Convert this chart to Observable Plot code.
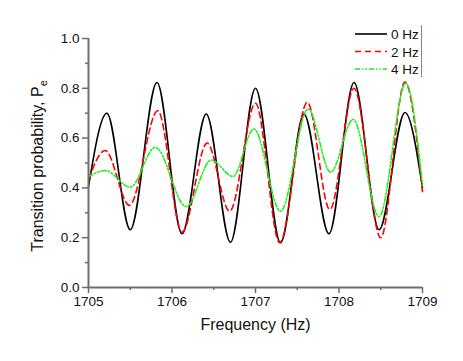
<!DOCTYPE html>
<html>
<head>
<meta charset="utf-8">
<script src="https://cdn.jsdelivr.net/npm/d3@7"></script>
<script src="https://cdn.jsdelivr.net/npm/@observablehq/plot@0.6"></script>
<style>
  html, body { margin: 0; padding: 0; background: #fff; }
  #chart { position: relative; width: 463px; height: 361px; }
  svg { font-family: "Liberation Sans", Arial, sans-serif; }
</style>
</head>
<body>
<div id="chart"></div>
<script>
// ---- data ----
const freq0 = [1705.0, 1705.22, 1705.5, 1705.82, 1706.12, 1706.41, 1706.70, 1707.00, 1707.30, 1707.58, 1707.88, 1708.18, 1708.48, 1708.79, 1709.0];
const p0    = [0.405, 0.70, 0.232, 0.823, 0.216, 0.697, 0.182, 0.80, 0.18, 0.697, 0.216, 0.823, 0.232, 0.703, 0.40];

const freq2 = [1705.0, 1705.2, 1705.49, 1705.83, 1706.12, 1706.42, 1706.69, 1707.0, 1707.29, 1707.62, 1707.89, 1708.18, 1708.5, 1708.79, 1709.0];
const p2    = [0.435, 0.55, 0.33, 0.71, 0.222, 0.58, 0.306, 0.74, 0.18, 0.744, 0.313, 0.80, 0.20, 0.825, 0.385];

const freq4 = [1705.0, 1705.2, 1705.5, 1705.8, 1706.17, 1706.47, 1706.73, 1706.98, 1707.3, 1707.63, 1707.9, 1708.17, 1708.48, 1708.8, 1709.0];
const p4    = [0.445, 0.47, 0.403, 0.563, 0.325, 0.512, 0.446, 0.637, 0.306, 0.717, 0.463, 0.675, 0.285, 0.82, 0.41];

const seriesNames = ["0 Hz", "2 Hz", "4 Hz"];
const xMajorTicks = [1705, 1706, 1707, 1708, 1709];
const xMinorTicks = [1705.5, 1706.5, 1707.5, 1708.5];
const yMajorTicks = [0.0, 0.2, 0.4, 0.6, 0.8, 1.0];
const yMinorTicks = [0.1, 0.3, 0.5, 0.7, 0.9];

// ---- styles ----
const styles = [
  {stroke: "#000000", dash: null, width: 1.6},
  {stroke: "#ff0000", dash: "6,4", width: 1.6},
  {stroke: "#22ee22", dash: "5,2,1.5,2,1.5,2", width: 1.6}
];
const axisColor = "#6e6e6e";

const rows = (fs, ps) => fs.map((f, i) => ({f, p: ps[i]}));
const data = [rows(freq0, p0), rows(freq2, p2), rows(freq4, p4)];

const W = 463, H = 361;
const plot = Plot.plot({
  width: W, height: H,
  marginLeft: 88, marginRight: 41, marginTop: 38, marginBottom: 74,
  style: {fontFamily: "Liberation Sans, Arial, sans-serif", fontSize: "13.5px", color: "#111", background: "#fff"},
  x: {domain: [1705, 1709]},
  y: {domain: [0, 1]},
  marks: [
    ...data.map((d, i) => Plot.line(d, {
      x: "f", y: "p", curve: "monotone-x",
      stroke: styles[i].stroke, strokeWidth: styles[i].width,
      strokeDasharray: styles[i].dash
    })),
    Plot.axisX({ticks: xMinorTicks, tickSize: 3, tickFormat: () => "", stroke: axisColor, strokeWidth: 1.5, label: null}),
    Plot.axisY({ticks: yMinorTicks, tickSize: 3, tickFormat: () => "", stroke: axisColor, strokeWidth: 1.5, label: null}),
    Plot.axisX({ticks: xMajorTicks, tickSize: 6, tickPadding: 3, tickFormat: d => String(d), stroke: axisColor, strokeWidth: 1.5,
      fontSize: 13.5, label: "Frequency (Hz)", labelAnchor: "center", labelOffset: 42, labelArrow: "none"}),
    Plot.axisY({ticks: yMajorTicks, tickSize: 6, tickPadding: 3, tickFormat: d3.format(".1f"), stroke: axisColor, strokeWidth: 1.5,
      fontSize: 13.5, label: null}),
    Plot.ruleX([1705], {stroke: axisColor, strokeWidth: 2}),
    Plot.ruleY([0], {stroke: axisColor, strokeWidth: 2})
  ]
});
document.getElementById("chart").appendChild(plot);

const svg = d3.select(plot);
svg.selectAll("[aria-label='x-axis label'] text").attr("font-size", 16).attr("fill", "#111");

// y-axis title with subscript
const yt = svg.append("text")
  .attr("transform", "translate(43,166) rotate(-90)")
  .attr("text-anchor", "middle")
  .attr("font-size", 16)
  .attr("fill", "#111");
yt.append("tspan").text("Transition probability, P");
yt.append("tspan").attr("font-size", 11).attr("dy", 4).text("e");

// legend
const lg = svg.append("g").attr("transform", "translate(355,34)");
seriesNames.forEach((name, i) => {
  const g = lg.append("g").attr("transform", `translate(0,${i * 17.5})`);
  g.append("line").attr("x1", 0).attr("x2", 32).attr("y1", 0).attr("y2", 0)
    .attr("stroke", styles[i].stroke).attr("stroke-width", styles[i].width)
    .attr("stroke-dasharray", styles[i].dash);
  g.append("text").attr("x", 36).attr("y", 5).attr("font-size", 13.5)
    .attr("text-anchor", "start").attr("fill", "#111").text(name);
});
lg.append("line").attr("x1", 66.5).attr("x2", 66.5).attr("y1", -9).attr("y2", 43)
  .attr("stroke", "#888").attr("stroke-width", 1);
</script>
</body>
</html>
